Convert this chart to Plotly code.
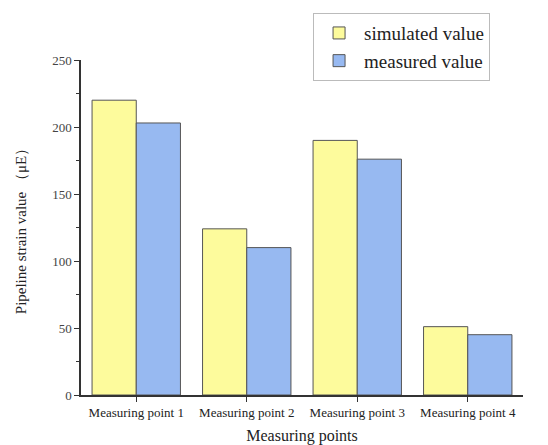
import plotly.graph_objects as go

categories = ["Measuring point 1", "Measuring point 2", "Measuring point 3", "Measuring point 4"]
simulated = [220, 124, 190, 51]
measured = [203, 110, 176, 45]

serif = "Liberation Serif, Times New Roman, serif"

fig = go.Figure()
fig.add_trace(go.Bar(x=categories, y=simulated, name="simulated value",
                     marker=dict(color="#FDFB9C", line=dict(color="#555555", width=1))))
fig.add_trace(go.Bar(x=categories, y=measured, name="measured value",
                     marker=dict(color="#97B9F1", line=dict(color="#555555", width=1))))

fig.update_layout(
    width=548, height=445,
    margin=dict(l=81, r=25, t=60, b=50),
    paper_bgcolor="white", plot_bgcolor="white",
    barmode="group", bargap=0.2, bargroupgap=0,
    font=dict(family=serif, color="#333333"),
    showlegend=True,
    legend=dict(x=0.525, y=1.14, xanchor="left", yanchor="top",
                bordercolor="#BBBBBB", borderwidth=1, bgcolor="white",
                font=dict(size=19, family=serif, color="#222222"),
                itemwidth=40, tracegroupgap=0),
)
fig.update_xaxes(
    range=[-0.5, 3.5], automargin=False,
    showline=True, linecolor="#333333", linewidth=1.5,
    ticks="outside", ticklen=5, tickcolor="#333333",
    tickfont=dict(size=13, family=serif, color="#222222"),
    title=dict(text="Measuring points", font=dict(size=16, family=serif, color="#222222"), standoff=10),
    showgrid=False, zeroline=False,
)
fig.update_yaxes(
    range=[0, 250], tickvals=[0, 50, 100, 150, 200, 250], automargin=False,
    showline=True, linecolor="#333333", linewidth=1.5,
    ticks="outside", ticklen=5, tickcolor="#333333",
    minor=dict(tickvals=[25, 75, 125, 175, 225], ticks="outside", ticklen=3, tickcolor="#333333"),
    tickfont=dict(size=13, family=serif, color="#444444"),
    title=dict(text="Pipeline strain value （μE）", font=dict(size=15, family=serif, color="#222222"), standoff=22),
    showgrid=False, zeroline=False,
)

fig.write_html("out.html")
